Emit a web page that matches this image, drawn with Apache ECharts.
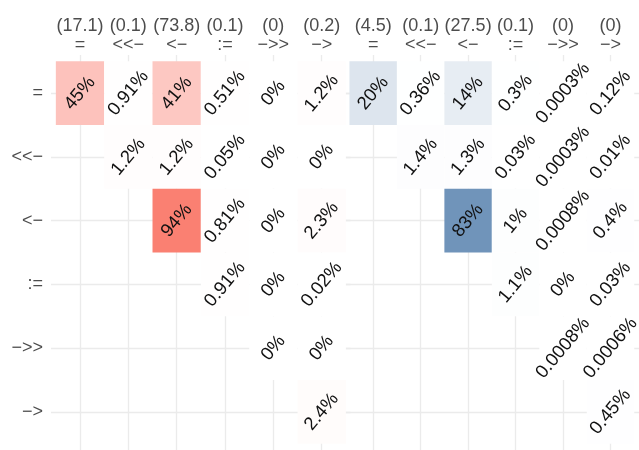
<!DOCTYPE html>
<html>
<head>
<meta charset="utf-8">
<script src="https://cdn.jsdelivr.net/npm/echarts@6/dist/echarts.min.js"></script>
<style>
  html, body { margin: 0; background: #fff; }
  #chart { width: 639px; height: 450px; }
</style>
</head>
<body>
<div id="chart"></div>
<script>
// operators, used for rows and for the columns of both panels
const operators = ['=', '<<−', '<−', ':=', '−>>', '−>']
const leftShares = ['17.1', '0.1', '73.8', '0.1', '0', '0.2']
const rightShares = ['4.5', '0.1', '27.5', '0.1', '0', '0']

// percentages, row by row (null = no tile)
const leftValues = [
  [45, 0.91, 41, 0.51, 0, 1.2],
  [null, 1.2, 1.2, 0.05, 0, 0],
  [null, null, 94, 0.81, 0, 2.3],
  [null, null, null, 0.91, 0, 0.02],
  [null, null, null, null, 0, 0],
  [null, null, null, null, null, 2.4],
]
const rightValues = [
  [20, 0.36, 14, 0.3, 0.0003, 0.12],
  [null, 1.4, 1.3, 0.03, 0.0003, 0.01],
  [null, null, 83, 1, 0.0008, 0.4],
  [null, null, null, 1.1, 0, 0.03],
  [null, null, null, null, 0.0008, 0.0006],
  [null, null, null, null, null, 0.45],
]

const positions = [0, 1, 2, 3, 4, 5]
const font = 'Liberation Sans, Arial, sans-serif'
const gridColor = '#ebebeb'

function toCells(matrix) {
  const cells = []
  matrix.forEach((row, r) => {
    row.forEach((v, c) => {
      if (v !== null) cells.push([c, r, v])
    })
  })
  return cells
}

const leftData = toCells(leftValues)
const rightData = toCells(rightValues)

function maxOf(cells) {
  return Math.max(...cells.map((d) => d[2]))
}

function renderTile(params, api) {
  const p = api.coord([api.value(0), api.value(1)])
  const s = api.size([1, 1])
  return {
    type: 'rect',
    shape: { x: p[0] - s[0] / 2, y: p[1] - s[1] / 2, width: s[0], height: s[1] },
    style: { fill: api.visual('color') },
  }
}

function renderText(params, api) {
  const p = api.coord([api.value(0), api.value(1)])
  return {
    type: 'text',
    x: p[0],
    y: p[1],
    rotation: (50 * Math.PI) / 180,
    style: {
      text: api.value(2) + '%',
      align: 'center',
      verticalAlign: 'middle',
      fontSize: 18.5,
      fontFamily: font,
      fill: '#111111',
    },
  }
}

function xAxis(gridIndex, shares) {
  return {
    type: 'value',
    gridIndex,
    position: 'top',
    min: -0.6,
    max: 5.6,
    axisLine: { show: false },
    axisTick: { show: false, customValues: positions },
    axisLabel: {
      customValues: positions,
      formatter: (v) => '(' + shares[Math.round(v)] + ')\n' + operators[Math.round(v)],
      color: '#4d4d4d',
      fontSize: 18,
      lineHeight: 19,
      fontFamily: font,
      margin: 0,
    },
    splitLine: { show: true, lineStyle: { color: gridColor, width: 1.3 } },
  }
}

function yAxis(gridIndex, showLabels) {
  return {
    type: 'value',
    gridIndex,
    inverse: true,
    min: -0.6,
    max: 5.6,
    axisLine: { show: false },
    axisTick: { show: false, customValues: positions },
    axisLabel: {
      show: showLabels,
      customValues: positions,
      formatter: (v) => operators[Math.round(v)],
      color: '#4d4d4d',
      fontSize: 18,
      fontFamily: font,
      margin: 8,
    },
    splitLine: { show: true, lineStyle: { color: gridColor, width: 1.3 } },
  }
}

const chart = echarts.init(document.getElementById('chart'))
chart.setOption({
  animation: false,
  backgroundColor: '#ffffff',
  grid: [
    { left: 51, top: 55, width: 299.7, height: 398 },
    { left: 344.7, top: 55, width: 295.6, height: 398 },
  ],
  xAxis: [xAxis(0, leftShares), xAxis(1, rightShares)],
  yAxis: [yAxis(0, true), yAxis(1, false)],
  visualMap: [
    {
      show: false,
      seriesIndex: 0,
      dimension: 2,
      min: 0,
      max: maxOf(leftData),
      inRange: { color: ['#ffffff', '#fa8072'] },
    },
    {
      show: false,
      seriesIndex: 1,
      dimension: 2,
      min: 0,
      max: maxOf(rightData),
      inRange: { color: ['#ffffff', '#7094ba'] },
    },
  ],
  series: [
    { type: 'custom', xAxisIndex: 0, yAxisIndex: 0, data: leftData, renderItem: renderTile, z: 2 },
    { type: 'custom', xAxisIndex: 1, yAxisIndex: 1, data: rightData, renderItem: renderTile, z: 2 },
    { type: 'custom', xAxisIndex: 0, yAxisIndex: 0, data: leftData, renderItem: renderText, z: 5 },
    { type: 'custom', xAxisIndex: 1, yAxisIndex: 1, data: rightData, renderItem: renderText, z: 5 },
  ],
})
</script>
</body>
</html>
